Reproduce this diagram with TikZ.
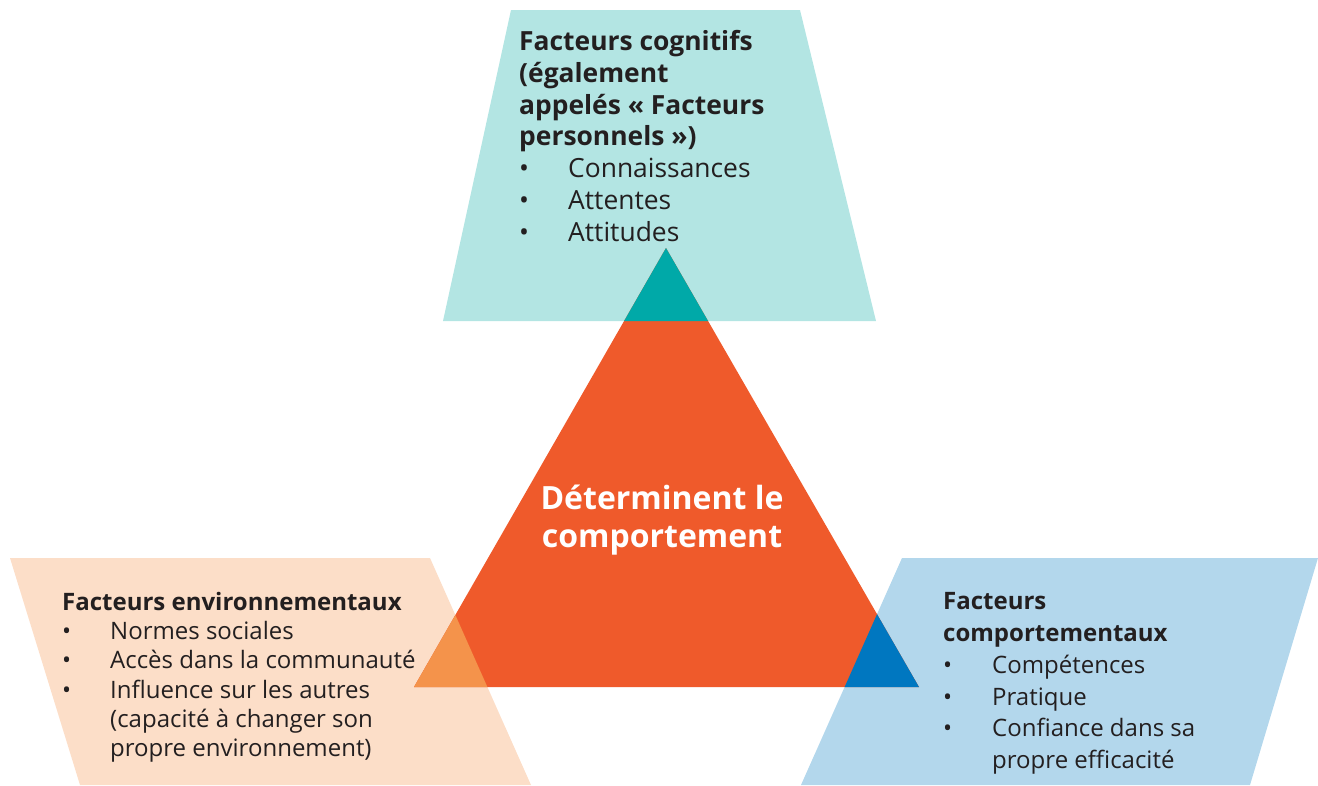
\documentclass[tikz,border=0pt]{standalone}
\usepackage{fontspec}
\setmainfont{Open Sans}
\definecolor{cogbg}{HTML}{B3E5E3}
\definecolor{cogdk}{HTML}{00A9A8}
\definecolor{envbg}{HTML}{FCDEC8}
\definecolor{envdk}{HTML}{F4934B}
\definecolor{behbg}{HTML}{B3D7EC}
\definecolor{behdk}{HTML}{0077C0}
\definecolor{coretri}{HTML}{EF5A2B}
\definecolor{ink}{HTML}{231F20}
\newcommand\bulitem[2]{\makebox[#1][l]{•}#2}
\begin{document}
\begin{tikzpicture}[x=1pt,y=-1pt,
  factorbox/.style={anchor=north west,inner sep=0pt,align=left,text=ink},
  coretext/.style={anchor=center,inner sep=0pt,align=center,text=white,
    font=\fontsize{32}{38}\selectfont\bfseries}]
\useasboundingbox (0,0) rectangle (1318,785);
% the three factor panels
\def\cogpanel{(511,10) -- (800,10) -- (876,321) -- (443,321) -- cycle}
\def\envpanel{(10,558) -- (430,558) -- (531,785) -- (80,785) -- cycle}
\def\behpanel{(902,558) -- (1318,558) -- (1250,785) -- (801,785) -- cycle}
\def\coretriangle{(666,248) -- (919,687) -- (414,687) -- cycle}
\fill[cogbg] \cogpanel;
\fill[envbg] \envpanel;
\fill[behbg] \behpanel;
% central triangle, with darker tints where it meets each panel
\fill[coretri] \coretriangle;
\begin{scope}
  \clip \coretriangle;
  \fill[cogdk] \cogpanel;
  \fill[envdk] \envpanel;
  \fill[behdk] \behpanel;
\end{scope}
% texts
\node[factorbox,font=\fontsize{26.4}{31.8}\selectfont] (cog) at (519,30)
  {\textbf{Facteurs cognitifs}\\
   \textbf{(également}\\
   \textbf{appelés « Facteurs}\\
   \textbf{personnels »)}\\
   \bulitem{49pt}{Connaissances}\\
   \bulitem{49pt}{Attentes}\\
   \bulitem{49pt}{Attitudes}};
\node[factorbox,font=\fontsize{24}{29.2}\selectfont] (env) at (62,592)
  {\textbf{Facteurs environnementaux}\\
   \bulitem{48pt}{Normes sociales}\\
   \bulitem{48pt}{Accès dans la communauté}\\
   \bulitem{48pt}{Influence sur les autres}\\
   \hspace*{48pt}(capacité à changer son\\
   \hspace*{48pt}propre environnement)};
\node[factorbox,font=\fontsize{24}{31.9}\selectfont] (beh) at (943,592)
  {\textbf{Facteurs}\\
   \textbf{comportementaux}\\
   \bulitem{49pt}{Compétences}\\
   \bulitem{49pt}{Pratique}\\
   \bulitem{49pt}{Confiance dans sa}\\
   \hspace*{49pt}propre efficacité};
\node[coretext] (core) at (662,520) {Déterminent le\\comportement};
\end{tikzpicture}
\end{document}
